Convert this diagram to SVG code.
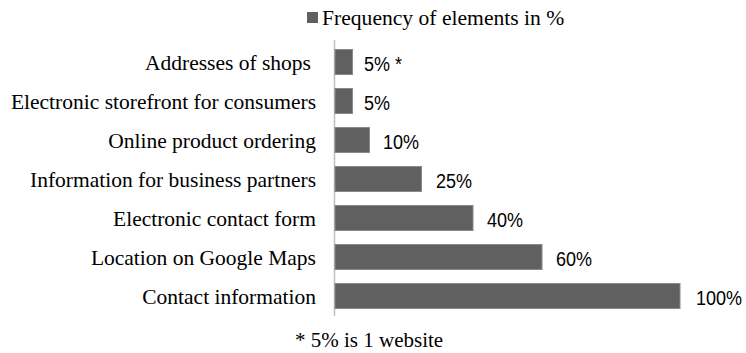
<svg xmlns="http://www.w3.org/2000/svg" width="746" height="353" viewBox="0 0 746 353">
<style>
.lbl{font-family:"Liberation Serif","Times New Roman",serif;font-size:21.5px;fill:#000;text-anchor:end}
.val{font-family:"Liberation Sans",Arial,sans-serif;font-size:18px;fill:#000}
.bar{fill:#606060;stroke:#8a8a8a;stroke-width:1}
.ttl{font-family:"Liberation Serif","Times New Roman",serif;font-size:21px;fill:#000}
</style>
<rect width="746" height="353" fill="#fff"/>
<g id="legend">
<rect x="307" y="12" width="11" height="11" fill="#606060"/>
<text class="ttl" x="322" y="25" style="font-size:21.6px">Frequency of elements in %</text>
</g>
<g id="axis"><line x1="334.5" y1="40" x2="334.5" y2="316" stroke="#bfbfbf" stroke-width="1.5"/></g>
<g id="bar-addresses">
<text class="lbl" x="311" y="69.5">Addresses of shops</text>
<rect class="bar" x="335" y="49.5" width="17.5" height="25"/>
<text class="val" transform="translate(364,70.5) scale(1,1.14)">5% *</text>
</g>
<g id="bar-storefront">
<text class="lbl" x="316" y="108.5">Electronic storefront for consumers</text>
<rect class="bar" x="335" y="88.5" width="17.5" height="25"/>
<text class="val" transform="translate(364,109.5) scale(1,1.14)">5%</text>
</g>
<g id="bar-ordering">
<text class="lbl" x="316" y="147.5">Online product ordering</text>
<rect class="bar" x="335" y="127.5" width="34.5" height="25"/>
<text class="val" transform="translate(383,148.5) scale(1,1.14)">10%</text>
</g>
<g id="bar-partners">
<text class="lbl" x="316" y="186.5">Information for business partners</text>
<rect class="bar" x="335" y="166.5" width="86.5" height="25"/>
<text class="val" transform="translate(436,187.5) scale(1,1.14)">25%</text>
</g>
<g id="bar-contactform">
<text class="lbl" x="316" y="225.5">Electronic contact form</text>
<rect class="bar" x="335" y="205.5" width="138" height="25"/>
<text class="val" transform="translate(487,226.5) scale(1,1.14)">40%</text>
</g>
<g id="bar-maps">
<text class="lbl" x="316" y="264.5">Location on Google Maps</text>
<rect class="bar" x="335" y="244.5" width="207" height="25"/>
<text class="val" transform="translate(556,265.5) scale(1,1.14)">60%</text>
</g>
<g id="bar-contact">
<text class="lbl" x="316" y="303.5">Contact information</text>
<rect class="bar" x="335" y="283.5" width="345" height="25"/>
<text class="val" transform="translate(696,304.5) scale(1,1.14)">100%</text>
</g>
<g id="footnote">
<text class="ttl" x="295" y="347">* 5% is 1 website</text>
</g>
</svg>
